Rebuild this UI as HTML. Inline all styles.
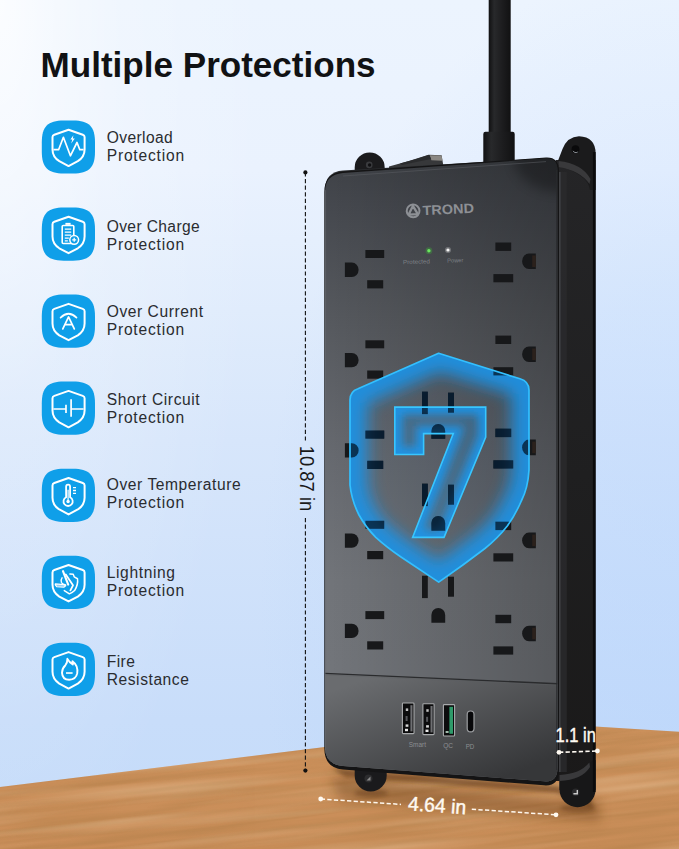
<!DOCTYPE html>
<html><head><meta charset="utf-8"><title>Multiple Protections</title>
<style>
html,body{margin:0;padding:0;background:#cfe1f7;}
body{width:679px;height:849px;overflow:hidden;font-family:"Liberation Sans",sans-serif;}
svg{display:block;}
</style></head><body>
<svg width="679" height="849" viewBox="0 0 679 849">
<clipPath id="floorclip"><path d="M0,787 L325,747 L460,731 L595,726.4 L679,731.7 L679,849 L0,849 Z"/></clipPath>

<defs>
  <linearGradient id="wall" x1="0" y1="0" x2="0" y2="849" gradientUnits="userSpaceOnUse">
    <stop offset="0" stop-color="rgb(236,244,254)"/>
    <stop offset="0.2" stop-color="rgb(234,242,254)"/>
    <stop offset="0.365" stop-color="rgb(224,236,252)"/>
    <stop offset="0.518" stop-color="rgb(215,230,251)"/>
    <stop offset="0.848" stop-color="rgb(200,221,250)"/>
    <stop offset="1" stop-color="rgb(196,219,249)"/>
  </linearGradient>
  <radialGradient id="glowTL" cx="0" cy="0" r="1" gradientUnits="userSpaceOnUse" gradientTransform="translate(0,0) scale(270,900)">
    <stop offset="0" stop-color="#ffffff" stop-opacity="0.8"/>
    <stop offset="0.2" stop-color="#ffffff" stop-opacity="0.5"/>
    <stop offset="0.45" stop-color="#ffffff" stop-opacity="0.22"/>
    <stop offset="0.7" stop-color="#ffffff" stop-opacity="0.11"/>
    <stop offset="0.85" stop-color="#ffffff" stop-opacity="0.05"/>
    <stop offset="1" stop-color="#ffffff" stop-opacity="0"/>
  </radialGradient>
  <radialGradient id="glowTR" cx="0" cy="0" r="1" gradientUnits="userSpaceOnUse" gradientTransform="translate(700,600) scale(440,650)">
    <stop offset="0" stop-color="rgb(170,205,255)" stop-opacity="0.3"/>
    <stop offset="0.16" stop-color="rgb(170,205,255)" stop-opacity="0.29"/>
    <stop offset="0.48" stop-color="rgb(170,205,255)" stop-opacity="0.235"/>
    <stop offset="0.75" stop-color="rgb(170,205,255)" stop-opacity="0.12"/>
    <stop offset="0.89" stop-color="rgb(170,205,255)" stop-opacity="0.06"/>
    <stop offset="1" stop-color="rgb(170,205,255)" stop-opacity="0"/>
  </radialGradient>
  <linearGradient id="wood" x1="0" y1="0" x2="0" y2="1">
    <stop offset="0" stop-color="#cc915c"/>
    <stop offset="1" stop-color="#c98d58"/>
  </linearGradient>
  <linearGradient id="face" x1="0" y1="160" x2="0" y2="670" gradientUnits="userSpaceOnUse">
    <stop offset="0" stop-color="rgb(62,65,70)"/>
    <stop offset="0.088" stop-color="rgb(69,72,78)"/>
    <stop offset="0.304" stop-color="rgb(85,88,93)"/>
    <stop offset="0.578" stop-color="rgb(102,105,111)"/>
    <stop offset="0.824" stop-color="rgb(113,116,121)"/>
    <stop offset="1" stop-color="rgb(114,117,122)"/>
  </linearGradient>
  <linearGradient id="faceV" x1="330" y1="0" x2="557" y2="0" gradientUnits="userSpaceOnUse">
    <stop offset="0" stop-color="#000" stop-opacity="0"/>
    <stop offset="1" stop-color="#000" stop-opacity="0.24"/>
  </linearGradient>
  <linearGradient id="panel" x1="335" y1="690" x2="383.8" y2="821.4" gradientUnits="userSpaceOnUse">
    <stop offset="0" stop-color="rgb(106,108,111)"/>
    <stop offset="1" stop-color="rgb(54,55,57)"/>
  </linearGradient>
  <linearGradient id="side" x1="0" y1="150" x2="0" y2="800" gradientUnits="userSpaceOnUse">
    <stop offset="0" stop-color="#252527"/>
    <stop offset="0.5" stop-color="#1f1f20"/>
    <stop offset="1" stop-color="#1a1919"/>
  </linearGradient>
  <linearGradient id="cable" x1="0" y1="0" x2="1" y2="0">
    <stop offset="0" stop-color="#101011"/>
    <stop offset="0.25" stop-color="#28292b"/>
    <stop offset="0.6" stop-color="#1d1d1f"/>
    <stop offset="1" stop-color="#111112"/>
  </linearGradient>
  <linearGradient id="faceR" x1="0" y1="0" x2="1" y2="0">
    <stop offset="0" stop-color="#000" stop-opacity="0"/>
    <stop offset="0.6" stop-color="#000" stop-opacity="0.12"/>
    <stop offset="1" stop-color="#000" stop-opacity="0.42"/>
  </linearGradient>
  <linearGradient id="faceT" x1="0" y1="0" x2="0" y2="1">
    <stop offset="0" stop-color="#000" stop-opacity="0.32"/>
    <stop offset="1" stop-color="#000" stop-opacity="0"/>
  </linearGradient>
  <linearGradient id="faceL" x1="0" y1="0" x2="1" y2="0">
    <stop offset="0" stop-color="#fff" stop-opacity="0.10"/>
    <stop offset="1" stop-color="#fff" stop-opacity="0"/>
  </linearGradient>
  <filter id="grain" x="0" y="0" width="100%" height="100%">
    <feTurbulence type="fractalNoise" baseFrequency="0.006 0.16" numOctaves="3" seed="7" result="n"/>
    <feColorMatrix type="matrix" values="0 0 0 0 0.35  0 0 0 0 0.18  0 0 0 0 0.05  0 0 0 -1.6 1.05"/>
  </filter>
  <filter id="grain2" x="0" y="0" width="100%" height="100%">
    <feTurbulence type="fractalNoise" baseFrequency="0.004 0.09" numOctaves="2" seed="21" result="n"/>
    <feColorMatrix type="matrix" values="0 0 0 0 1  0 0 0 0 0.85  0 0 0 0 0.62  0 0 0 1.5 -0.62"/>
  </filter>
  <filter id="blur7" x="-30%" y="-30%" width="160%" height="160%"><feGaussianBlur stdDeviation="7"/></filter>
  <filter id="blur8" x="-30%" y="-30%" width="160%" height="160%"><feGaussianBlur stdDeviation="8"/></filter>
  <filter id="blur35" x="-30%" y="-30%" width="160%" height="160%"><feGaussianBlur stdDeviation="3.5"/></filter>
  <filter id="blur9" x="-30%" y="-30%" width="160%" height="160%"><feGaussianBlur stdDeviation="9"/></filter>
  <filter id="blur4" x="-30%" y="-30%" width="160%" height="160%"><feGaussianBlur stdDeviation="4"/></filter>
  <filter id="blur2" x="-30%" y="-30%" width="160%" height="160%"><feGaussianBlur stdDeviation="2"/></filter>
  <filter id="blur3" x="-20%" y="-20%" width="140%" height="140%"><feGaussianBlur stdDeviation="3"/></filter>
  <filter id="blur6" x="-20%" y="-20%" width="140%" height="140%"><feGaussianBlur stdDeviation="6"/></filter>
  <filter id="blur1" x="-20%" y="-20%" width="140%" height="140%"><feGaussianBlur stdDeviation="0.6"/></filter>
  <clipPath id="faceclip"><path d="M325,192 Q325,174.5 343,173 L546,158.6 Q557.5,158 557.5,171 L557.5,768 Q557.5,782.5 544,781.3 L343,766 Q325,764.5 325,747 Z"/></clipPath>
  <clipPath id="shieldclip"><path d="M438.6,353.3 L520,378.8 Q529,381.5 529,390 L529,470 Q528,488 521.3,501 Q515.5,514.5 507.3,526 Q497.5,538.5 484.9,548.5 L462.5,565.3 L438.7,582.1 L401,557 Q386.5,547 375.8,537.3 Q365.5,527 359,515 Q351.5,500 350,485 L350,400 Q350,391.5 358,388.8 Z"/></clipPath>
  <clipPath id="sevenclip"><path d="M394.8,407.1 L485.7,407.1 L485.7,437 L444,537.4 L412.6,537.4 L453.3,433.6 L423.6,433.6 L423.6,454.5 L394.8,454.5 Z"/></clipPath>
</defs>

<rect width="679" height="849" fill="url(#wall)"/>
<rect width="679" height="849" fill="url(#glowTL)"/>
<rect width="679" height="849" fill="url(#glowTR)"/>
<path d="M0,787 L325,747 L460,731 L595,726.4 L679,731.7 L679,849 L0,849 Z" fill="url(#wood)"/>
<g clip-path="url(#floorclip)"><g transform="rotate(-6.2 340 790)"><rect x="-60" y="640" width="820" height="320" filter="url(#grain)" opacity="0.4"/><rect x="-60" y="640" width="820" height="320" filter="url(#grain2)" opacity="0.35"/></g></g>
<path d="M330,776 L560,800 L600,800 L600,822 L340,800 Z" fill="#5a3210" opacity="0.35" filter="url(#blur6)"/>
<path d="M332,768 L557,786 L592,800 L592,808 L557,793 L345,777 Z" fill="#5b3515" opacity="0.6" filter="url(#blur2)"/>
<ellipse cx="371" cy="793" rx="17" ry="4" fill="#5b3515" opacity="0.45" filter="url(#blur2)"/>
<ellipse cx="578" cy="808" rx="18" ry="4" fill="#5b3515" opacity="0.45" filter="url(#blur2)"/>
<rect x="488.7" y="0" width="22" height="140" fill="url(#cable)"/>
<path d="M483.3,134 Q483.3,131.8 485.5,131.8 L512.5,131.8 Q514.7,131.8 514.7,134 L514.7,163 L483.3,163 Z" fill="url(#cable)"/>
<path d="M354.7,172 L354.7,167.4 A15,15 0 0 1 384.7,167.4 L384.7,172 Z" fill="#1b1b1d"/>
<circle cx="369.2" cy="164.9" r="3.3" fill="#3a3b3e"/><circle cx="369.6" cy="165" r="1.7" fill="#101012"/>
<path d="M354.7,765 L354.7,775.4 A16,16 0 0 0 386.7,775.4 L386.7,768 Z" fill="#1a1a1c"/>
<circle cx="368.5" cy="778.4" r="4" fill="#2c2c2e"/>
<path d="M366.5,780.5 L370.5,780.5 L370.5,776.5 Z" fill="#8a8a8a"/>
<path d="M389,166.5 Q410,161 428.5,154.7 L441.6,155.2 L443.4,166 L389,169.5 Z" fill="#37383a"/>
<path d="M429.6,155.2 L441.6,155.6 L442.4,160.8 L431.4,160.2 Z" fill="#8b8883"/>
<path d="M400,163.6 Q416,159.4 428.6,155 L429.6,155.2 L431,159 Q416,162 402,165 Z" fill="#2a2b2d"/>
<path d="M556,160 L595.5,160 L595.5,790 L559.5,790 L559.5,781 L556,781 Z" fill="url(#side)"/>
<rect x="557.2" y="172" width="3.6" height="600" fill="#45464a" opacity="0.85"/>
<rect x="560.8" y="172" width="6" height="600" fill="#2b2b2d" opacity="0.8"/>
<path d="M557.5,162 L562.5,149 Q567.5,136.6 579,136.3 Q595.6,137 595.6,153.5 L595.6,190 L590,190 Q588,174 557.5,166 Z" fill="#1b1b1c"/>
<circle cx="575.5" cy="149.2" r="3.9" fill="#0a0a0b"/>
<path d="M572.6,150.6 A3.3,3.3 0 0 0 578.4,151.4 A4.6,4.6 0 0 1 572.6,150.6 Z" fill="#e6eef8"/>
<path d="M558.5,161 Q582,163.5 590.5,179 L589.5,184 Q580,170.5 558.5,167 Z" fill="#39393b"/>
<path d="M559.5,776 L559.5,789.5 A18,17.6 0 0 0 595.6,789.5 L595.6,760 L590,762 Q586,776 559.5,776 Z" fill="#171718"/>
<circle cx="575.7" cy="792.2" r="3.8" fill="#2a2a2c"/>
<path d="M573.4,794.4 L578,794.4 L578,790 L576.6,790 L576.6,793 L573.4,793 Z" fill="#c9c9c9"/>
<path d="M559.5,781 Q582,780 590,767 L589.4,762.5 Q580,774 559.5,775 Z" fill="#39393b"/>
<rect x="592.9" y="152" width="2.7" height="640" fill="#0b0b0c"/>
<path d="M325,190 Q325,172 343,170.6 L548,158 L557.5,162 L557.5,180 L325,200 Z" fill="#2b2d30"/>
<path d="M324.3,192 Q324.3,173.5 343,171.5 L546,157.6 Q559,157 559,171 L559,770 Q559,786.5 544,785.3 L343,769.5 Q324.3,768 324.3,748 Z" fill="#141415"/>
<path d="M325,192 Q325,174.5 343,173 L546,158.6 Q557.5,158 557.5,171 L557.5,768 Q557.5,782.5 544,781.3 L343,766 Q325,764.5 325,747 Z" fill="url(#face)"/>
<g clip-path="url(#faceclip)">
<rect x="320" y="150" width="245" height="650" fill="url(#faceV)"/>
<ellipse cx="560" cy="158" rx="46" ry="34" fill="#000" opacity="0.28" filter="url(#blur6)"/>
</g>
<path d="M343,176 L546,161.6" stroke="#5a5d62" stroke-width="0.8" opacity="0.7"/>
<g clip-path="url(#faceclip)">
<path d="M325,673.4 L557.5,683.7 L557.5,800 L325,800 Z" fill="url(#panel)"/>
<path d="M325,673.4 L557.5,683.7" stroke="#2a2b2d" stroke-width="1.4"/>
<path d="M325,674.8 L557.5,685.1" stroke="#5c5e62" stroke-width="0.7" opacity="0.6"/>
<path d="M325.6,190 L325.6,750" stroke="#6a6d72" stroke-width="1" opacity="0.5"/>
<path d="M556.8,170 L556.8,770" stroke="#2a2b2d" stroke-width="1.4" opacity="0.8"/>
</g>
<rect x="365.4" y="250.0" width="18.8" height="8" fill="#17181a"/><rect x="367.2" y="280.2" width="16" height="8.2" fill="#17181a"/><path d="M344.9,262.6 L351.8,262.6 A6.8,7.2 0 0 1 351.8,277.0 L344.9,277.0 Z" fill="#17181a"/><rect x="495.4" y="242.5" width="15.8" height="8.4" fill="#17181a"/><rect x="493.4" y="274.1" width="19.8" height="8.2" fill="#17181a"/><path d="M535.8,253.4 L529,253.4 A6.9,7.8 0 0 0 529,269.0 L535.8,269.0 Z" fill="#17181a"/><path d="M535.8,255.4 L532.2,255.4 L532.2,267.0 L535.8,267.0 Z" fill="#2b211c"/><rect x="365.4" y="340.3" width="18.8" height="8" fill="#17181a"/><rect x="367.2" y="370.5" width="16" height="8.2" fill="#17181a"/><path d="M344.9,352.9 L351.8,352.9 A6.8,7.2 0 0 1 351.8,367.3 L344.9,367.3 Z" fill="#17181a"/><rect x="495.4" y="335.6" width="15.8" height="8.4" fill="#17181a"/><rect x="493.4" y="367.2" width="19.8" height="8.2" fill="#17181a"/><path d="M535.8,346.5 L529,346.5 A6.9,7.8 0 0 0 529,362.1 L535.8,362.1 Z" fill="#17181a"/><path d="M535.8,348.5 L532.2,348.5 L532.2,360.1 L535.8,360.1 Z" fill="#2b211c"/><rect x="365.4" y="430.6" width="18.8" height="8" fill="#17181a"/><rect x="367.2" y="460.8" width="16" height="8.2" fill="#17181a"/><path d="M344.9,443.2 L351.8,443.2 A6.8,7.2 0 0 1 351.8,457.6 L344.9,457.6 Z" fill="#17181a"/><rect x="495.4" y="428.7" width="15.8" height="8.4" fill="#17181a"/><rect x="493.4" y="460.3" width="19.8" height="8.2" fill="#17181a"/><path d="M535.8,439.6 L529,439.6 A6.9,7.8 0 0 0 529,455.2 L535.8,455.2 Z" fill="#17181a"/><path d="M535.8,441.6 L532.2,441.6 L532.2,453.2 L535.8,453.2 Z" fill="#2b211c"/><rect x="365.4" y="520.8" width="18.8" height="8" fill="#17181a"/><rect x="367.2" y="551.0" width="16" height="8.2" fill="#17181a"/><path d="M344.9,533.4 L351.8,533.4 A6.8,7.2 0 0 1 351.8,547.8 L344.9,547.8 Z" fill="#17181a"/><rect x="495.4" y="521.7" width="15.8" height="8.4" fill="#17181a"/><rect x="493.4" y="553.3" width="19.8" height="8.2" fill="#17181a"/><path d="M535.8,532.6 L529,532.6 A6.9,7.8 0 0 0 529,548.2 L535.8,548.2 Z" fill="#17181a"/><path d="M535.8,534.6 L532.2,534.6 L532.2,546.2 L535.8,546.2 Z" fill="#2b211c"/><rect x="365.4" y="611.1" width="18.8" height="8" fill="#17181a"/><rect x="367.2" y="641.3" width="16" height="8.2" fill="#17181a"/><path d="M344.9,623.7 L351.8,623.7 A6.8,7.2 0 0 1 351.8,638.1 L344.9,638.1 Z" fill="#17181a"/><rect x="495.4" y="614.8" width="15.8" height="8.4" fill="#17181a"/><rect x="493.4" y="646.4" width="19.8" height="8.2" fill="#17181a"/><path d="M535.8,625.7 L529,625.7 A6.9,7.8 0 0 0 529,641.3 L535.8,641.3 Z" fill="#17181a"/><path d="M535.8,627.7 L532.2,627.7 L532.2,639.3 L535.8,639.3 Z" fill="#2b211c"/><rect x="422" y="391.7" width="5.8" height="22.4" fill="#17181a"/><rect x="448" y="392.7" width="6" height="20" fill="#17181a"/><path d="M431.4,438.7 L431.4,430.9 A6.9,6.8 0 0 1 445.2,430.9 L445.2,438.7 Z" fill="#17181a"/><rect x="422" y="483.7" width="5.8" height="22.4" fill="#17181a"/><rect x="448" y="484.7" width="6" height="20" fill="#17181a"/><path d="M431.4,530.7 L431.4,522.9 A6.9,6.8 0 0 1 445.2,522.9 L445.2,530.7 Z" fill="#17181a"/><rect x="422" y="575.7" width="5.8" height="22.4" fill="#17181a"/><rect x="448" y="576.7" width="6" height="20" fill="#17181a"/><path d="M431.4,622.7 L431.4,614.9 A6.9,6.8 0 0 1 445.2,614.9 L445.2,622.7 Z" fill="#17181a"/>
<g transform="translate(0,-1.8) rotate(-2.5 440 210)">
<circle cx="413" cy="211.5" r="6.4" fill="none" stroke="#8d9095" stroke-width="2"/>
<path d="M413,206.5 L417.6,215 L408.4,215 Z" fill="none" stroke="#8d9095" stroke-width="2.3" stroke-linejoin="round"/>
<text x="422.5" y="216.2" font-family="Liberation Sans, sans-serif" font-weight="bold" font-size="13.6" fill="#8d9095" textLength="51.5" lengthAdjust="spacingAndGlyphs">TROND</text>
</g>
<circle cx="428.9" cy="250.7" r="3.4" fill="#3fae3a" opacity="0.35" filter="url(#blur1)"/>
<circle cx="428.9" cy="250.7" r="1.7" fill="#6be85f"/>
<circle cx="448" cy="250" r="3" fill="#ffffff" opacity="0.25" filter="url(#blur1)"/>
<circle cx="448" cy="250" r="1.6" fill="#f4f4f4"/>
<text x="403" y="263.8" font-family="Liberation Sans, sans-serif" font-size="6" fill="#7d8085" textLength="27" lengthAdjust="spacingAndGlyphs" transform="rotate(-2 416 262)">Protected</text>
<text x="447.3" y="262.4" font-family="Liberation Sans, sans-serif" font-size="6" fill="#7d8085" textLength="16" lengthAdjust="spacingAndGlyphs" transform="rotate(-2 455 261)">Power</text>
<rect x="402.4" y="703" width="11.6" height="30.6" rx="0.8" fill="#0c0c0d" stroke="#a9abad" stroke-width="1.1"/><rect x="410.4" y="705.2" width="2.1" height="26.200000000000003" fill="#6e6f72"/><rect x="405.79999999999995" y="708.4" width="2.4" height="2.6" fill="#bdbdbd"/><rect x="405.59999999999997" y="716" width="2" height="5" fill="#55565a"/><rect x="405.59999999999997" y="724.4" width="2.8" height="2.4" fill="#d8d8d8"/><rect x="405.0" y="728.8" width="3" height="2.4" fill="#e8e8e8"/>
<rect x="422.9" y="703.8" width="11.2" height="30.8" rx="0.8" fill="#0c0c0d" stroke="#a9abad" stroke-width="1.1"/><rect x="430.49999999999994" y="706.0" width="2.1" height="26.4" fill="#6e6f72"/><rect x="426.29999999999995" y="709.1999999999999" width="2.4" height="2.6" fill="#bdbdbd"/><rect x="426.09999999999997" y="716.8" width="2" height="5" fill="#55565a"/><rect x="426.09999999999997" y="725.1999999999999" width="2.8" height="2.4" fill="#d8d8d8"/><rect x="425.5" y="729.5999999999999" width="3" height="2.4" fill="#e8e8e8"/>
<rect x="443.4" y="704.6" width="11.2" height="31.4" rx="0.8" fill="#0c0c0d" stroke="#a9abad" stroke-width="1.1"/><rect x="449.4" y="706.8000000000001" width="3.6" height="27.0" fill="#2f9a6a"/><rect x="445.59999999999997" y="731.0" width="3" height="2" fill="#9fb8aa"/>
<rect x="467.2" y="711" width="6.8" height="20.8" rx="3.4" fill="#08080a" stroke="#9c9ea1" stroke-width="1.2"/>
<text x="408.8" y="746.7" font-family="Liberation Sans, sans-serif" font-size="7.6" fill="#8c8e92" textLength="17.2" lengthAdjust="spacingAndGlyphs">Smart</text>
<text x="443.2" y="748.3" font-family="Liberation Sans, sans-serif" font-size="7.6" fill="#8c8e92" textLength="9.8" lengthAdjust="spacingAndGlyphs">QC</text>
<text x="465.7" y="749.2" font-family="Liberation Sans, sans-serif" font-size="7.6" fill="#8c8e92" textLength="8.6" lengthAdjust="spacingAndGlyphs">PD</text>
<path d="M438.6,353.3 L520,378.8 Q529,381.5 529,390 L529,470 Q528,488 521.3,501 Q515.5,514.5 507.3,526 Q497.5,538.5 484.9,548.5 L462.5,565.3 L438.7,582.1 L401,557 Q386.5,547 375.8,537.3 Q365.5,527 359,515 Q351.5,500 350,485 L350,400 Q350,391.5 358,388.8 Z" fill="#2a8ad0" fill-opacity="0.04"/>
<g clip-path="url(#shieldclip)">
<path d="M438.6,353.3 L520,378.8 Q529,381.5 529,390 L529,470 Q528,488 521.3,501 Q515.5,514.5 507.3,526 Q497.5,538.5 484.9,548.5 L462.5,565.3 L438.7,582.1 L401,557 Q386.5,547 375.8,537.3 Q365.5,527 359,515 Q351.5,500 350,485 L350,400 Q350,391.5 358,388.8 Z" fill="none" stroke="#1c90e2" stroke-width="35" stroke-opacity="0.95" filter="url(#blur8)"/>
</g>
<path d="M394.8,407.1 L485.7,407.1 L485.7,437 L444,537.4 L412.6,537.4 L453.3,433.6 L423.6,433.6 L423.6,454.5 L394.8,454.5 Z" fill="#2a8ad0" fill-opacity="0.3"/>
<g clip-path="url(#sevenclip)">
<path d="M394.8,407.1 L485.7,407.1 L485.7,437 L444,537.4 L412.6,537.4 L453.3,433.6 L423.6,433.6 L423.6,454.5 L394.8,454.5 Z" fill="none" stroke="#1e94e6" stroke-width="15" stroke-opacity="0.95" filter="url(#blur4)"/>
</g>
<g clip-path="url(#shieldclip)" opacity="0.78">
<rect x="365.4" y="250.0" width="18.8" height="8" fill="#061d33"/><rect x="367.2" y="280.2" width="16" height="8.2" fill="#061d33"/><path d="M344.9,262.6 L351.8,262.6 A6.8,7.2 0 0 1 351.8,277.0 L344.9,277.0 Z" fill="#061d33"/><rect x="495.4" y="242.5" width="15.8" height="8.4" fill="#061d33"/><rect x="493.4" y="274.1" width="19.8" height="8.2" fill="#061d33"/><path d="M535.8,253.4 L529,253.4 A6.9,7.8 0 0 0 529,269.0 L535.8,269.0 Z" fill="#061d33"/><path d="M535.8,255.4 L532.2,255.4 L532.2,267.0 L535.8,267.0 Z" fill="#2b211c"/><rect x="365.4" y="340.3" width="18.8" height="8" fill="#061d33"/><rect x="367.2" y="370.5" width="16" height="8.2" fill="#061d33"/><path d="M344.9,352.9 L351.8,352.9 A6.8,7.2 0 0 1 351.8,367.3 L344.9,367.3 Z" fill="#061d33"/><rect x="495.4" y="335.6" width="15.8" height="8.4" fill="#061d33"/><rect x="493.4" y="367.2" width="19.8" height="8.2" fill="#061d33"/><path d="M535.8,346.5 L529,346.5 A6.9,7.8 0 0 0 529,362.1 L535.8,362.1 Z" fill="#061d33"/><path d="M535.8,348.5 L532.2,348.5 L532.2,360.1 L535.8,360.1 Z" fill="#2b211c"/><rect x="365.4" y="430.6" width="18.8" height="8" fill="#061d33"/><rect x="367.2" y="460.8" width="16" height="8.2" fill="#061d33"/><path d="M344.9,443.2 L351.8,443.2 A6.8,7.2 0 0 1 351.8,457.6 L344.9,457.6 Z" fill="#061d33"/><rect x="495.4" y="428.7" width="15.8" height="8.4" fill="#061d33"/><rect x="493.4" y="460.3" width="19.8" height="8.2" fill="#061d33"/><path d="M535.8,439.6 L529,439.6 A6.9,7.8 0 0 0 529,455.2 L535.8,455.2 Z" fill="#061d33"/><path d="M535.8,441.6 L532.2,441.6 L532.2,453.2 L535.8,453.2 Z" fill="#2b211c"/><rect x="365.4" y="520.8" width="18.8" height="8" fill="#061d33"/><rect x="367.2" y="551.0" width="16" height="8.2" fill="#061d33"/><path d="M344.9,533.4 L351.8,533.4 A6.8,7.2 0 0 1 351.8,547.8 L344.9,547.8 Z" fill="#061d33"/><rect x="495.4" y="521.7" width="15.8" height="8.4" fill="#061d33"/><rect x="493.4" y="553.3" width="19.8" height="8.2" fill="#061d33"/><path d="M535.8,532.6 L529,532.6 A6.9,7.8 0 0 0 529,548.2 L535.8,548.2 Z" fill="#061d33"/><path d="M535.8,534.6 L532.2,534.6 L532.2,546.2 L535.8,546.2 Z" fill="#2b211c"/><rect x="365.4" y="611.1" width="18.8" height="8" fill="#061d33"/><rect x="367.2" y="641.3" width="16" height="8.2" fill="#061d33"/><path d="M344.9,623.7 L351.8,623.7 A6.8,7.2 0 0 1 351.8,638.1 L344.9,638.1 Z" fill="#061d33"/><rect x="495.4" y="614.8" width="15.8" height="8.4" fill="#061d33"/><rect x="493.4" y="646.4" width="19.8" height="8.2" fill="#061d33"/><path d="M535.8,625.7 L529,625.7 A6.9,7.8 0 0 0 529,641.3 L535.8,641.3 Z" fill="#061d33"/><path d="M535.8,627.7 L532.2,627.7 L532.2,639.3 L535.8,639.3 Z" fill="#2b211c"/><rect x="422" y="391.7" width="5.8" height="22.4" fill="#061d33"/><rect x="448" y="392.7" width="6" height="20" fill="#061d33"/><path d="M431.4,438.7 L431.4,430.9 A6.9,6.8 0 0 1 445.2,430.9 L445.2,438.7 Z" fill="#061d33"/><rect x="422" y="483.7" width="5.8" height="22.4" fill="#061d33"/><rect x="448" y="484.7" width="6" height="20" fill="#061d33"/><path d="M431.4,530.7 L431.4,522.9 A6.9,6.8 0 0 1 445.2,522.9 L445.2,530.7 Z" fill="#061d33"/><rect x="422" y="575.7" width="5.8" height="22.4" fill="#061d33"/><rect x="448" y="576.7" width="6" height="20" fill="#061d33"/><path d="M431.4,622.7 L431.4,614.9 A6.9,6.8 0 0 1 445.2,614.9 L445.2,622.7 Z" fill="#061d33"/>
</g>
<path d="M438.6,353.3 L520,378.8 Q529,381.5 529,390 L529,470 Q528,488 521.3,501 Q515.5,514.5 507.3,526 Q497.5,538.5 484.9,548.5 L462.5,565.3 L438.7,582.1 L401,557 Q386.5,547 375.8,537.3 Q365.5,527 359,515 Q351.5,500 350,485 L350,400 Q350,391.5 358,388.8 Z" fill="none" stroke="#33c0ff" stroke-width="1.7" stroke-linejoin="round"/>
<path d="M394.8,407.1 L485.7,407.1 L485.7,437 L444,537.4 L412.6,537.4 L453.3,433.6 L423.6,433.6 L423.6,454.5 L394.8,454.5 Z" fill="none" stroke="#38c6ff" stroke-width="1.6" stroke-linejoin="miter"/>
<path d="M305.4,172.4 L305.4,441" stroke="#111" stroke-width="1.1" stroke-dasharray="4.2 2.4"/>
<path d="M305.4,518 L305.4,770.6" stroke="#111" stroke-width="1.1" stroke-dasharray="4.2 2.4"/>
<circle cx="305.4" cy="172.4" r="2.1" fill="#111"/><circle cx="305.4" cy="770.6" r="2.1" fill="#111"/>
<text transform="translate(300.2,445.8) rotate(90)" font-family="Liberation Sans, sans-serif" font-size="21" fill="#1a1a1a" textLength="65.4" lengthAdjust="spacingAndGlyphs">10.87 in</text>
<path d="M320.7,799 L401,804.4" stroke="#fff8ee" stroke-width="1.5" stroke-dasharray="4.3 2.3"/>
<path d="M471.8,809.2 L556,814.8" stroke="#fff8ee" stroke-width="1.5" stroke-dasharray="4.3 2.3"/>
<circle cx="320.7" cy="799" r="2.4" fill="#fffaf2"/><circle cx="556" cy="814.8" r="2.4" fill="#fffaf2"/>
<text transform="translate(407.8,810.2) rotate(4)" font-family="Liberation Sans, sans-serif" font-size="20" fill="#fffaf2" stroke="#fffaf2" stroke-width="0.45" textLength="58" lengthAdjust="spacingAndGlyphs">4.64 in</text>
<path d="M559,752.3 L597.4,751" stroke="#fffaf2" stroke-width="1.6" stroke-dasharray="4.3 2.3"/>
<circle cx="559" cy="752.3" r="2.4" fill="#fffaf2"/><circle cx="597.4" cy="751" r="2.4" fill="#fffaf2"/>
<text x="555.6" y="742.4" font-family="Liberation Sans, sans-serif" font-size="20.5" fill="#fffaf2" stroke="#fffaf2" stroke-width="0.45" textLength="40.2" lengthAdjust="spacingAndGlyphs">1.1 in</text>
<text x="40.6" y="76.8" font-family="Liberation Sans, sans-serif" font-weight="bold" font-size="34.5" fill="#111214" textLength="335" lengthAdjust="spacingAndGlyphs">Multiple Protections</text>
<g transform="translate(41.8,120.40)">
<path d="M0,26.6 L0,22 C0,6 6,0 22,0 L31.2,0 C47.2,0 53.2,6 53.2,22 L53.2,31.2 C53.2,47.2 47.2,53.2 31.2,53.2 L22,53.2 C6,53.2 0,47.2 0,31.2 Z" fill="#0f9fe9"/>
<path d="M26.75,9.3 L41,14.3 Q42.8,14.9 42.8,16.7 L42.8,29 Q42.8,36.3 36,40.8 L26.75,45.7 L17.5,40.8 Q10.7,36.3 10.7,29 L10.7,16.7 Q10.7,14.9 12.5,14.3 Z" fill="none" stroke="#fff" stroke-width="2" stroke-linejoin="round"/>
<path d="M11.6,29.3 L16.8,29.3 L21.6,16.9 L28.6,35.4 L35.2,22.1 L38,29.3 L41.8,29.3" fill="none" stroke="#fff" stroke-width="1.7" stroke-linejoin="round"/><path d="M31.6,14.8 L28.6,19.2 L30.5,19.2 L29.4,23 L33,18.2 L31,18.2 Z" fill="#fff"/>
</g>
<text x="106.7" y="143.0" font-family="Liberation Sans, sans-serif" font-size="15.6" fill="#2a2c30" textLength="66.1" lengthAdjust="spacing">Overload</text>
<text x="106.7" y="161.2" font-family="Liberation Sans, sans-serif" font-size="15.6" fill="#2a2c30" textLength="77.4" lengthAdjust="spacing">Protection</text>
<g transform="translate(41.8,207.47)">
<path d="M0,26.6 L0,22 C0,6 6,0 22,0 L31.2,0 C47.2,0 53.2,6 53.2,22 L53.2,31.2 C53.2,47.2 47.2,53.2 31.2,53.2 L22,53.2 C6,53.2 0,47.2 0,31.2 Z" fill="#0f9fe9"/>
<path d="M26.75,9.3 L41,14.3 Q42.8,14.9 42.8,16.7 L42.8,29 Q42.8,36.3 36,40.8 L26.75,45.7 L17.5,40.8 Q10.7,36.3 10.7,29 L10.7,16.7 Q10.7,14.9 12.5,14.3 Z" fill="none" stroke="#fff" stroke-width="2" stroke-linejoin="round"/>
<rect x="20.4" y="18" width="11.6" height="18" rx="1" fill="none" stroke="#fff" stroke-width="1.6"/><rect x="23.6" y="15.4" width="5.2" height="2" fill="#fff"/><path d="M23,21.6 h6.4 M23,24.6 h6.4 M23,27.6 h6.4 M23,30.6 h4 M23,33.4 h3" stroke="#fff" stroke-width="1.3"/><circle cx="32.4" cy="32.4" r="4.4" fill="#0f9fe9" stroke="#fff" stroke-width="1.5"/><path d="M30.4,32.4 h4 M32.4,30.4 v4" stroke="#fff" stroke-width="1.3"/>
</g>
<text x="106.7" y="231.9" font-family="Liberation Sans, sans-serif" font-size="15.6" fill="#2a2c30" textLength="93.0" lengthAdjust="spacing">Over Charge</text>
<text x="106.7" y="250.0" font-family="Liberation Sans, sans-serif" font-size="15.6" fill="#2a2c30" textLength="77.4" lengthAdjust="spacing">Protection</text>
<g transform="translate(41.8,294.54)">
<path d="M0,26.6 L0,22 C0,6 6,0 22,0 L31.2,0 C47.2,0 53.2,6 53.2,22 L53.2,31.2 C53.2,47.2 47.2,53.2 31.2,53.2 L22,53.2 C6,53.2 0,47.2 0,31.2 Z" fill="#0f9fe9"/>
<path d="M26.75,9.3 L41,14.3 Q42.8,14.9 42.8,16.7 L42.8,29 Q42.8,36.3 36,40.8 L26.75,45.7 L17.5,40.8 Q10.7,36.3 10.7,29 L10.7,16.7 Q10.7,14.9 12.5,14.3 Z" fill="none" stroke="#fff" stroke-width="2" stroke-linejoin="round"/>
<path d="M18.8,23 Q26.75,15.4 34.7,23" fill="none" stroke="#fff" stroke-width="1.7" stroke-linecap="round"/><path d="M21,34.4 L26.75,22.4 L32.5,34.4 M23.4,30 L30.1,30" fill="none" stroke="#fff" stroke-width="1.7" stroke-linecap="round" stroke-linejoin="round"/>
</g>
<text x="106.7" y="317.2" font-family="Liberation Sans, sans-serif" font-size="15.6" fill="#2a2c30" textLength="96.3" lengthAdjust="spacing">Over Current</text>
<text x="106.7" y="335.4" font-family="Liberation Sans, sans-serif" font-size="15.6" fill="#2a2c30" textLength="77.4" lengthAdjust="spacing">Protection</text>
<g transform="translate(41.8,381.61)">
<path d="M0,26.6 L0,22 C0,6 6,0 22,0 L31.2,0 C47.2,0 53.2,6 53.2,22 L53.2,31.2 C53.2,47.2 47.2,53.2 31.2,53.2 L22,53.2 C6,53.2 0,47.2 0,31.2 Z" fill="#0f9fe9"/>
<path d="M26.75,9.3 L41,14.3 Q42.8,14.9 42.8,16.7 L42.8,29 Q42.8,36.3 36,40.8 L26.75,45.7 L17.5,40.8 Q10.7,36.3 10.7,29 L10.7,16.7 Q10.7,14.9 12.5,14.3 Z" fill="none" stroke="#fff" stroke-width="2" stroke-linejoin="round"/>
<path d="M11.6,27.4 L24.2,27.4 M24.2,23.2 L24.2,31.4 M29.3,17.7 L29.3,35.1 M29.3,27.4 L41.8,27.4" fill="none" stroke="#fff" stroke-width="1.7"/>
</g>
<text x="106.7" y="405.0" font-family="Liberation Sans, sans-serif" font-size="15.6" fill="#2a2c30" textLength="93.0" lengthAdjust="spacing">Short Circuit</text>
<text x="106.7" y="423.1" font-family="Liberation Sans, sans-serif" font-size="15.6" fill="#2a2c30" textLength="77.4" lengthAdjust="spacing">Protection</text>
<g transform="translate(41.8,468.68)">
<path d="M0,26.6 L0,22 C0,6 6,0 22,0 L31.2,0 C47.2,0 53.2,6 53.2,22 L53.2,31.2 C53.2,47.2 47.2,53.2 31.2,53.2 L22,53.2 C6,53.2 0,47.2 0,31.2 Z" fill="#0f9fe9"/>
<path d="M26.75,9.3 L41,14.3 Q42.8,14.9 42.8,16.7 L42.8,29 Q42.8,36.3 36,40.8 L26.75,45.7 L17.5,40.8 Q10.7,36.3 10.7,29 L10.7,16.7 Q10.7,14.9 12.5,14.3 Z" fill="none" stroke="#fff" stroke-width="2" stroke-linejoin="round"/>
<path d="M24.3,28.6 L24.3,18 A2,2 0 0 1 28.3,18 L28.3,28.6 A4.6,4.6 0 1 1 24.3,28.6 Z" fill="none" stroke="#fff" stroke-width="1.8"/><circle cx="26.3" cy="32.8" r="1.7" fill="#fff"/><path d="M26.3,32 L26.3,21" stroke="#fff" stroke-width="1.2"/><path d="M31.2,19 h3 M31.2,21.8 h3 M31.2,24.6 h3" stroke="#fff" stroke-width="1.3"/>
</g>
<text x="106.7" y="490.0" font-family="Liberation Sans, sans-serif" font-size="15.6" fill="#2a2c30" textLength="134.0" lengthAdjust="spacing">Over Temperature</text>
<text x="106.7" y="508.0" font-family="Liberation Sans, sans-serif" font-size="15.6" fill="#2a2c30" textLength="77.4" lengthAdjust="spacing">Protection</text>
<g transform="translate(41.8,555.75)">
<path d="M0,26.6 L0,22 C0,6 6,0 22,0 L31.2,0 C47.2,0 53.2,6 53.2,22 L53.2,31.2 C53.2,47.2 47.2,53.2 31.2,53.2 L22,53.2 C6,53.2 0,47.2 0,31.2 Z" fill="#0f9fe9"/>
<path d="M26.75,9.3 L41,14.3 Q42.8,14.9 42.8,16.7 L42.8,29 Q42.8,36.3 36,40.8 L26.75,45.7 L17.5,40.8 Q10.7,36.3 10.7,29 L10.7,16.7 Q10.7,14.9 12.5,14.3 Z" fill="none" stroke="#fff" stroke-width="2" stroke-linejoin="round"/>
<g fill="none" stroke="#fff" stroke-linejoin="round" stroke-linecap="round"><path d="M21.2,15.4 L26.4,28.8" stroke-width="2.1"/><path d="M24,18.8 L31.2,29.6 L28.6,34.6" stroke-width="1.8"/><path d="M20.3,22 Q18.5,24.5 19.6,26.8 Q21,28.7 23.9,29.1" stroke-width="1.3"/><path d="M13.5,28.2 L22,28.9 L23.9,30.1 L22,31.5 L14.9,31 L13.5,29.1 Z" stroke-width="1.2" fill="#8fd0f6"/><path d="M28.1,18.3 L31.4,18.5 L32.4,21.1 L35.7,23 Q36.6,28.6 32.8,34.8 Q30.6,37 27.6,38.1 L22.5,34.8" stroke-width="1.5"/></g>
</g>
<text x="106.7" y="578.4" font-family="Liberation Sans, sans-serif" font-size="15.6" fill="#2a2c30" textLength="68.3" lengthAdjust="spacing">Lightning</text>
<text x="106.7" y="596.0" font-family="Liberation Sans, sans-serif" font-size="15.6" fill="#2a2c30" textLength="77.4" lengthAdjust="spacing">Protection</text>
<g transform="translate(41.8,642.82)">
<path d="M0,26.6 L0,22 C0,6 6,0 22,0 L31.2,0 C47.2,0 53.2,6 53.2,22 L53.2,31.2 C53.2,47.2 47.2,53.2 31.2,53.2 L22,53.2 C6,53.2 0,47.2 0,31.2 Z" fill="#0f9fe9"/>
<path d="M26.75,9.3 L41,14.3 Q42.8,14.9 42.8,16.7 L42.8,29 Q42.8,36.3 36,40.8 L26.75,45.7 L17.5,40.8 Q10.7,36.3 10.7,29 L10.7,16.7 Q10.7,14.9 12.5,14.3 Z" fill="none" stroke="#fff" stroke-width="2" stroke-linejoin="round"/>
<path d="M25.6,16 Q27.4,19.4 31,21.6 Q31.4,19.8 30.6,18.4 Q36.6,22.6 35.4,30.6 Q34.2,36.6 27.4,37 Q20.6,36.8 20.2,30 Q20.2,25.6 23.6,22.4 Q25.6,20.2 25.6,16 Z" fill="none" stroke="#fff" stroke-width="1.9" stroke-linejoin="round"/><path d="M24.2,30.2 h6.6" stroke="#fff" stroke-width="1.6"/>
</g>
<text x="106.7" y="667.2" font-family="Liberation Sans, sans-serif" font-size="15.6" fill="#2a2c30" textLength="28.2" lengthAdjust="spacing">Fire</text>
<text x="106.7" y="685.4" font-family="Liberation Sans, sans-serif" font-size="15.6" fill="#2a2c30" textLength="82.2" lengthAdjust="spacing">Resistance</text>
</svg>
</body></html>
